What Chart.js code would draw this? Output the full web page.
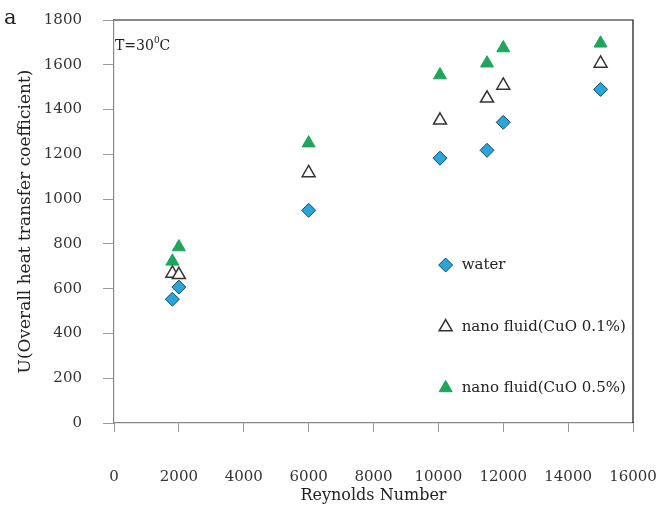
<!DOCTYPE html>
<html>
<head>
<meta charset="utf-8">
<script src="https://cdn.jsdelivr.net/npm/chart.js@4"></script>
<style>
  html, body { margin: 0; padding: 0; background: #fff; }
  #wrap { width: 660px; height: 506px; }
</style>
</head>
<body>
<div id="wrap"><canvas id="myChart" width="660" height="506"></canvas></div>
<script>
// Reynolds number of each run
const reynolds = [1800, 2000, 6000, 10050, 11500, 12000, 15000];
// overall heat transfer coefficient U
const water = [553, 607, 950, 1183, 1218, 1343, 1490];
const cuo01 = [668, 662, 1117, 1352, 1450, 1508, 1606];
const cuo05 = [722, 786, 1250, 1554, 1607, 1675, 1696];

const xTicks = [0, 2000, 4000, 6000, 8000, 10000, 12000, 14000, 16000];
const yTicks = [0, 200, 400, 600, 800, 1000, 1200, 1400, 1600, 1800];

const seriesNames = ['water', 'nano fluid(CuO 0.1%)', 'nano fluid(CuO 0.5%)'];

function toPoints(ys) {
    return reynolds.map(function (x, i) { return {x: x, y: ys[i]}; });
}

const serif = "'DejaVu Serif', 'Liberation Serif', serif";

// box lines, annotations and the in-plot legend
const extras = {
    id: 'extras',
    afterDraw: function (chart) {
        const ctx = chart.ctx;
        const a = chart.chartArea;
        ctx.save();
        ctx.strokeStyle = '#111';
        ctx.lineWidth = 1.2;
        ctx.beginPath();
        ctx.moveTo(a.left, a.top);
        ctx.lineTo(a.right, a.top);
        ctx.lineTo(a.right, a.bottom);
        ctx.stroke();

        ctx.fillStyle = '#222';
        ctx.textBaseline = 'middle';
        ctx.textAlign = 'left';
        ctx.font = '21px ' + serif;
        ctx.fillText('a', 4, 19);

        ctx.font = '14px ' + serif;
        ctx.fillText('T=30', a.left + 1, a.top + 26);
        let w = ctx.measureText('T=30').width;
        ctx.font = '9px ' + serif;
        ctx.fillText('0', a.left + 1 + w, a.top + 21);
        let w2 = ctx.measureText('0').width;
        ctx.font = '14px ' + serif;
        ctx.fillText('C', a.left + 1 + w + w2, a.top + 26);

        const lx = a.left + (a.right - a.left) * 0.639;
        const rows = [0.608, 0.762, 0.913];
        chart.data.datasets.forEach(function (ds, i) {
            const ly = a.top + (a.bottom - a.top) * rows[i];
            ctx.fillStyle = ds.pointBackgroundColor;
            ctx.strokeStyle = ds.pointBorderColor;
            ctx.lineWidth = ds.pointBorderWidth;
            Chart.helpers.drawPoint(ctx, {
                pointStyle: ds.pointStyle,
                radius: ds.pointRadius,
                rotation: 0,
                borderWidth: ds.pointBorderWidth
            }, lx, ly);
            ctx.fillStyle = '#222';
            ctx.font = '15px ' + serif;
            ctx.fillText(ds.label, lx + 16, ly);
        });
        ctx.restore();
    }
};

const ctx = document.getElementById('myChart');

new Chart(ctx, {
    type: 'scatter',
    data: {
        datasets: [{
            label: seriesNames[0],
            data: toPoints(water),
            pointStyle: 'rectRot',
            pointRadius: 7,
            pointBackgroundColor: '#2aa5d8',
            pointBorderColor: '#1b4460',
            pointBorderWidth: 1
        }, {
            label: seriesNames[1],
            data: toPoints(cuo01),
            pointStyle: 'triangle',
            pointRadius: 7.5,
            pointBackgroundColor: '#ffffff',
            pointBorderColor: '#333333',
            pointBorderWidth: 1.5
        }, {
            label: seriesNames[2],
            data: toPoints(cuo05),
            pointStyle: 'triangle',
            pointRadius: 7.5,
            pointBackgroundColor: '#1ea65c',
            pointBorderColor: '#1ea65c',
            pointBorderWidth: 1
        }]
    },
    options: {
        responsive: false,
        animation: false,
        layout: {padding: {left: 6, right: 27, top: 20, bottom: 0}},
        plugins: {
            legend: {display: false},
            tooltip: {enabled: false}
        },
        scales: {
            x: {
                type: 'linear',
                min: 0,
                max: 16000,
                afterBuildTicks: function (axis) {
                    axis.ticks = xTicks.map(function (v) { return {value: v}; });
                },
                afterFit: function (axis) {
                    axis.height = 83;
                    axis.paddingLeft = 0;
                    axis.paddingRight = 0;
                },
                grid: {drawOnChartArea: false, tickLength: 9, color: '#999'},
                border: {color: '#888', width: 1.2},
                ticks: {
                    padding: 36,
                    color: '#333',
                    font: {family: serif, size: 15},
                    maxRotation: 0,
                    callback: function (v) { return String(v); }
                },
                title: {
                    display: true,
                    text: 'Reynolds Number',
                    color: '#222',
                    font: {family: serif, size: 16},
                    padding: {top: 0, bottom: 1}
                }
            },
            y: {
                type: 'linear',
                min: 0,
                max: 1800,
                afterBuildTicks: function (axis) {
                    axis.ticks = yTicks.map(function (v) { return {value: v}; });
                },
                afterFit: function (axis) {
                    axis.width = 108;
                    axis.paddingTop = 0;
                    axis.paddingBottom = 0;
                },
                grid: {drawOnChartArea: false, tickLength: 11, color: '#999'},
                border: {color: '#888', width: 1.2},
                ticks: {
                    padding: 21,
                    color: '#333',
                    font: {family: serif, size: 15},
                    callback: function (v) { return String(v); }
                },
                title: {
                    display: true,
                    text: 'U(Overall heat transfer coefficient)',
                    color: '#222',
                    font: {family: serif, size: 17},
                    padding: {top: 9, bottom: 0}
                }
            }
        }
    },
    plugins: [extras]
});
</script>
</body>
</html>
